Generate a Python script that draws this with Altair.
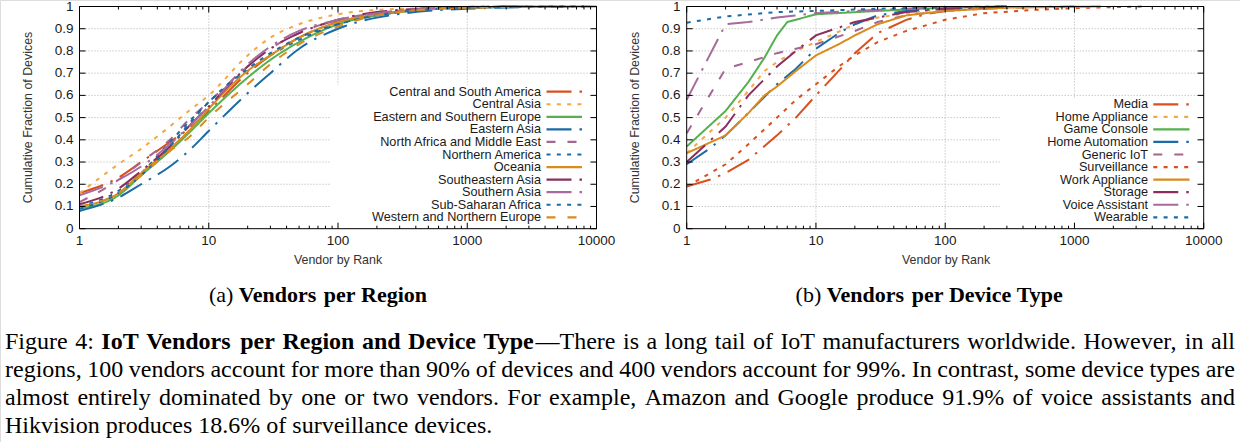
import altair as alt
import pandas as pd

# ---------------- data ----------------
region_names = ["Central and South America", "Central Asia", "Eastern and Southern Europe",
                "Eastern Asia", "North Africa and Middle East", "Northern America", "Oceania",
                "Southeastern Asia", "Southern Asia", "Sub-Saharan Africa", "Western and Northern Europe"]
region_rank = [1, 2, 3, 5, 7, 10, 20, 30, 50, 100, 200, 1000]
region_end = [3000, 1000, 10000, 8000, 2000, 8000, 5000, 3000, 2000, 6000, 9000]
csa_frac = [0.16, 0.23, 0.30, 0.39, 0.45, 0.53, 0.70, 0.78, 0.86, 0.93, 0.965, 0.995]
cas_frac = [0.16, 0.29, 0.36, 0.46, 0.53, 0.60, 0.78, 0.86, 0.92, 0.965, 0.985, 0.998]
ese_frac = [0.09, 0.15, 0.24, 0.35, 0.43, 0.52, 0.68, 0.76, 0.84, 0.92, 0.96, 0.995]
eas_frac = [0.08, 0.14, 0.20, 0.28, 0.35, 0.44, 0.61, 0.70, 0.81, 0.90, 0.95, 0.99]
nme_frac = [0.12, 0.22, 0.30, 0.40, 0.49, 0.57, 0.73, 0.81, 0.88, 0.94, 0.97, 0.997]
nam_frac = [0.10, 0.17, 0.25, 0.39, 0.48, 0.57, 0.71, 0.78, 0.85, 0.92, 0.96, 0.995]
oce_frac = [0.10, 0.16, 0.25, 0.36, 0.44, 0.54, 0.71, 0.78, 0.86, 0.93, 0.965, 0.995]
sea_frac = [0.11, 0.18, 0.26, 0.37, 0.46, 0.55, 0.73, 0.81, 0.88, 0.94, 0.975, 0.998]
sas_frac = [0.15, 0.22, 0.28, 0.38, 0.46, 0.55, 0.74, 0.82, 0.89, 0.94, 0.97, 0.998]
ssa_frac = [0.09, 0.16, 0.24, 0.37, 0.47, 0.57, 0.72, 0.79, 0.86, 0.92, 0.96, 0.995]
wne_frac = [0.10, 0.16, 0.24, 0.35, 0.41, 0.50, 0.65, 0.74, 0.83, 0.91, 0.96, 0.995]
region_fracs = [csa_frac, cas_frac, ese_frac, eas_frac, nme_frac, nam_frac,
                oce_frac, sea_frac, sas_frac, ssa_frac, wne_frac]

device_names = ["Media", "Home Appliance", "Game Console", "Home Automation", "Generic IoT",
                "Surveillance", "Work Appliance", "Storage", "Voice Assistant", "Wearable"]
media_rank = [1, 1.5, 2, 3, 5, 7, 10, 15, 20, 30, 50, 70, 100, 200, 500, 1000]
media_frac = [0.19, 0.22, 0.25, 0.31, 0.42, 0.50, 0.60, 0.71, 0.79, 0.88, 0.94, 0.965, 0.98, 0.99, 0.998, 1.0]
happ_rank = [1, 2, 3, 4, 5, 7, 10, 20, 30, 50, 100, 200]
happ_frac = [0.34, 0.50, 0.62, 0.71, 0.75, 0.80, 0.84, 0.92, 0.95, 0.97, 0.99, 1.0]
game_rank = [1, 2, 3, 4, 5, 6, 10, 30, 100, 300]
game_frac = [0.37, 0.53, 0.66, 0.77, 0.87, 0.93, 0.965, 0.98, 0.995, 1.0]
hauto_rank = [1, 1.5, 2, 3, 5, 7, 10, 15, 20, 30, 50, 100, 300]
hauto_frac = [0.29, 0.36, 0.42, 0.52, 0.65, 0.72, 0.81, 0.88, 0.92, 0.96, 0.98, 0.99, 1.0]
generic_rank = [1, 2, 3, 5, 7, 10, 20, 30, 50, 100, 200, 500]
generic_frac = [0.43, 0.72, 0.75, 0.79, 0.81, 0.83, 0.89, 0.93, 0.96, 0.98, 0.99, 1.0]
surv_rank = [1, 2, 3, 5, 7, 10, 15, 20, 30, 50, 100, 200, 500, 1000, 3500]
surv_frac = [0.19, 0.29, 0.38, 0.50, 0.58, 0.65, 0.73, 0.78, 0.84, 0.89, 0.94, 0.97, 0.985, 0.993, 1.0]
work_rank = [1, 1.3, 2, 3, 4, 5, 7, 10, 15, 20, 30, 50, 100, 300, 1600]
work_frac = [0.34, 0.37, 0.42, 0.52, 0.60, 0.64, 0.71, 0.78, 0.83, 0.87, 0.92, 0.96, 0.98, 0.995, 1.0]
storage_rank = [1, 2, 3, 5, 7, 10, 20, 30, 50, 100, 300]
storage_frac = [0.30, 0.46, 0.60, 0.73, 0.80, 0.87, 0.93, 0.95, 0.975, 0.99, 1.0]
voice_rank = [1, 2, 3, 5, 10, 20, 50, 100]
voice_frac = [0.58, 0.92, 0.93, 0.95, 0.97, 0.98, 0.99, 1.0]
wear_rank = [1, 2, 5, 10, 30, 100, 300]
wear_frac = [0.927, 0.955, 0.975, 0.98, 0.99, 0.997, 1.0]
device_ranks = [media_rank, happ_rank, game_rank, hauto_rank, generic_rank, surv_rank,
                work_rank, storage_rank, voice_rank, wear_rank]
device_fracs = [media_frac, happ_frac, game_frac, hauto_frac, generic_frac, surv_frac,
                work_frac, storage_frac, voice_frac, wear_frac]

x_tick_values = [1, 10, 100, 1000, 10000]
x_tick_labels = ["1", "10", "100", "1000", "10000"]
y_tick_values = [0, 0.1, 0.2, 0.3, 0.4, 0.5, 0.6, 0.7, 0.8, 0.9, 1]
y_tick_labels = ["0", "0.1", "0.2", "0.3", "0.4", "0.5", "0.6", "0.7", "0.8", "0.9", "1"]

subcaption_a = "(a) **Vendors per Region**"
subcaption_b = "(b) **Vendors per Device Type**"
caption_lines = [
    "Figure 4: **IoT Vendors per Region and Device Type**—There is a long tail of IoT manufacturers worldwide. However, in all",
    "regions, 100 vendors account for more than 90% of devices and 400 vendors account for 99%. In contrast, some device types are",
    "almost entirely dominated by one or two vendors. For example, Amazon and Google produce 91.9% of voice assistants and",
    "Hikvision produces 18.6% of surveillance devices.",
]

# ---------------- styles ----------------
RED = "#d9501e"
LORANGE = "#f5a742"
GREEN = "#55b04f"
BLUE = "#1b6ba6"
PURPLE = "#a2668f"
ORANGE = "#d98b1c"
DPURPLE = "#8a2d5f"
LPURPLE = "#a66b9a"
DASHDOT = [25, 8, 2.5, 8]
DOT = [4, 6.3]
DASH = [9, 12]
SOLID = [1, 0]

region_colors = [RED, LORANGE, GREEN, BLUE, PURPLE, BLUE, ORANGE, DPURPLE, LPURPLE, BLUE, ORANGE]
region_dashes = [DASHDOT, DOT, SOLID, DASHDOT, DASH, DOT, SOLID, DASHDOT, DASHDOT, DOT, DASH]
device_colors = [RED, LORANGE, GREEN, BLUE, PURPLE, RED, ORANGE, DPURPLE, LPURPLE, BLUE]
device_dashes = [DASHDOT, DOT, SOLID, DASHDOT, DASH, DOT, SOLID, DASHDOT, DASHDOT, DOT]

SANS = "Liberation Sans"
SERIF = "Liberation Serif"
GRID = "#b0b0b0"
Y0, Y1 = 228.7, 6.5

PA = dict(x0=79.5, x1=596.5, ylab_x=73.5, ytitle_x=28, xtitle_x=338,
          box=(330, 85, 590, 228), lt_x=541, ls0=546.5, ls1=582, ly0=91.7, ly1=217.3)
PB = dict(x0=686.7, x1=1203.7, ylab_x=680.5, ytitle_x=635, xtitle_x=946,
          box=(1000, 99, 1197, 228), lt_x=1148, ls0=1153.3, ls1=1189.5, ly0=104.3, ly1=217.3)

one = pd.DataFrame({"k": [0]})


def panel(P, df, names, colors, dashes, interp):
    xs = alt.Scale(type="log", domain=[1, 10000], range=[P["x0"], P["x1"]])
    ys = alt.Scale(domain=[0, 1], range=[Y0, Y1], nice=False, zero=False)
    L = []
    # grid
    L.append(alt.Chart(pd.DataFrame({"v": x_tick_values[1:-1]})).mark_rule(
        color=GRID, strokeDash=[1, 2], strokeWidth=1).encode(
        x=alt.X("v:Q", scale=xs, axis=None), y=alt.value(Y1), y2=alt.value(Y0)))
    L.append(alt.Chart(pd.DataFrame({"v": y_tick_values[1:-1]})).mark_rule(
        color=GRID, strokeDash=[1, 2], strokeWidth=1).encode(
        y=alt.Y("v:Q", scale=ys, axis=None), x=alt.value(P["x0"]), x2=alt.value(P["x1"])))
    # legend background box
    bx0, by0, bx1, by1 = P["box"]
    L.append(alt.Chart(one).mark_rect(color="white").encode(
        x=alt.value(bx0), x2=alt.value(bx1), y=alt.value(by0), y2=alt.value(by1)))
    # curves
    L.append(alt.Chart(df).mark_line(strokeWidth=2, interpolate=interp).encode(
        x=alt.X("rank:Q", scale=xs, axis=None),
        y=alt.Y("frac:Q", scale=ys, axis=None),
        color=alt.Color("series:N", scale=alt.Scale(domain=names, range=colors), legend=None),
        strokeDash=alt.StrokeDash("series:N", scale=alt.Scale(domain=names, range=dashes), legend=None),
        detail="series:N"))
    # frame
    L.append(alt.Chart(one).mark_rect(fillOpacity=0, stroke="black", strokeWidth=1).encode(
        x=alt.value(P["x0"]), x2=alt.value(P["x1"]), y=alt.value(Y1), y2=alt.value(Y0)))
    # ticks
    minor = [m * d for d in [1, 10, 100, 1000] for m in range(2, 10)]
    for vals, ln in [(x_tick_values, 6), (minor, 3)]:
        d = pd.DataFrame({"v": vals})
        L.append(alt.Chart(d).mark_rule(color="black", strokeWidth=1).encode(
            x=alt.X("v:Q", scale=xs, axis=None), y=alt.value(Y0), y2=alt.value(Y0 - ln)))
        L.append(alt.Chart(d).mark_rule(color="black", strokeWidth=1).encode(
            x=alt.X("v:Q", scale=xs, axis=None), y=alt.value(Y1), y2=alt.value(Y1 + ln)))
    dy = pd.DataFrame({"v": y_tick_values})
    L.append(alt.Chart(dy).mark_rule(color="black", strokeWidth=1).encode(
        y=alt.Y("v:Q", scale=ys, axis=None), x=alt.value(P["x0"]), x2=alt.value(P["x0"] + 6)))
    L.append(alt.Chart(dy).mark_rule(color="black", strokeWidth=1).encode(
        y=alt.Y("v:Q", scale=ys, axis=None), x=alt.value(P["x1"]), x2=alt.value(P["x1"] - 6)))
    # tick labels
    L.append(alt.Chart(pd.DataFrame({"v": x_tick_values, "t": x_tick_labels})).mark_text(
        font=SANS, fontSize=13.5, color="#1a1a1a", baseline="middle", align="center").encode(
        x=alt.X("v:Q", scale=xs, axis=None), y=alt.value(240.5), text="t:N"))
    L.append(alt.Chart(pd.DataFrame({"v": y_tick_values, "t": y_tick_labels})).mark_text(
        font=SANS, fontSize=13.5, color="#1a1a1a", baseline="middle", align="right").encode(
        y=alt.Y("v:Q", scale=ys, axis=None), x=alt.value(P["ylab_x"]), text="t:N"))
    # axis titles
    L.append(alt.Chart(one).mark_text(font=SANS, fontSize=12.4, color="#333333", angle=270,
                                      baseline="middle", align="center",
                                      text="Cumulative Fraction of Devices").encode(
        x=alt.value(P["ytitle_x"]), y=alt.value(117.5)))
    L.append(alt.Chart(one).mark_text(font=SANS, fontSize=12.4, color="#333333",
                                      baseline="middle", align="center",
                                      text="Vendor by Rank").encode(
        x=alt.value(P["xtitle_x"]), y=alt.value(260)))
    # legend
    n = len(names)
    ld = pd.DataFrame({"idx": list(range(n)), "series": names})
    ly = alt.Scale(domain=[0, n - 1], range=[P["ly0"], P["ly1"]])
    L.append(alt.Chart(ld).mark_text(font=SANS, fontSize=12.7, color="#1a1a1a",
                                     baseline="middle", align="right").encode(
        x=alt.value(P["lt_x"]), y=alt.Y("idx:Q", scale=ly, axis=None), text="series:N"))
    L.append(alt.Chart(ld).mark_rule(strokeWidth=2.2).encode(
        x=alt.value(P["ls0"]), x2=alt.value(P["ls1"]),
        y=alt.Y("idx:Q", scale=ly, axis=None),
        color=alt.Color("series:N", scale=alt.Scale(domain=names, range=colors), legend=None),
        strokeDash=alt.StrokeDash("series:N", scale=alt.Scale(domain=names, range=dashes), legend=None)))
    return L


rows = []
for name, fr, end in zip(region_names, region_fracs, region_end):
    for r, f in zip(region_rank + [end], fr + [1.0]):
        rows.append({"series": name, "rank": r, "frac": f})
df_a = pd.DataFrame(rows)
rows = []
for name, rk, fr in zip(device_names, device_ranks, device_fracs):
    for r, f in zip(rk, fr):
        rows.append({"series": name, "rank": r, "frac": f})
df_b = pd.DataFrame(rows)

# ---------------- caption text layout (Times metrics) ----------------
REG = {" ": 250, ",": 250, ".": 250, "%": 833, ":": 278, "—": 1000, "(": 333, ")": 333, "-": 333,
       "A": 722, "F": 556, "G": 722, "H": 722, "I": 333, "T": 611,
       "a": 444, "b": 500, "c": 444, "d": 500, "e": 444, "f": 333, "g": 500, "h": 500, "i": 278,
       "j": 278, "k": 500, "l": 278, "m": 778, "n": 500, "o": 500, "p": 500, "q": 500, "r": 333,
       "s": 389, "t": 278, "u": 500, "v": 500, "w": 722, "x": 500, "y": 500, "z": 444}
BOLD = {" ": 250, ",": 250, ".": 250, ":": 333, "I": 389, "T": 667, "V": 722, "R": 722, "D": 722,
        "a": 500, "b": 556, "c": 444, "d": 556, "e": 444, "f": 333, "g": 500, "h": 556, "i": 278,
        "j": 333, "k": 556, "l": 278, "m": 833, "n": 556, "o": 500, "p": 556, "q": 556, "r": 444,
        "s": 389, "t": 333, "u": 556, "v": 500, "w": 722, "x": 500, "y": 500, "z": 444}


def tw(t, b, size):
    tab = BOLD if b else REG
    return sum(tab.get(c, 500) for c in t) * size / 1000.0


def parse(line):
    words, parts, bold, buf, i = [], [], False, "", 0
    while i < len(line):
        if line.startswith("**", i):
            if buf:
                parts.append((buf, bold))
                buf = ""
            bold = not bold
            i += 2
            continue
        c = line[i]
        if c == " ":
            if buf:
                parts.append((buf, bold))
                buf = ""
            if parts:
                words.append(parts)
                parts = []
        else:
            buf += c
        i += 1
    if buf:
        parts.append((buf, bold))
    if parts:
        words.append(parts)
    return words


def place(line, y, size, mode, a, b=None):
    words = parse(line)
    widths = [sum(tw(t, bb, size) for t, bb in w) for w in words]
    if mode == "justify":
        gap = (b - a - sum(widths)) / (len(words) - 1)
        x = a
    else:
        gap = 0.25 * size
        total = sum(widths) + gap * (len(words) - 1)
        x = a - total / 2 if mode == "center" else a
    out = []
    for w, wd in zip(words, widths):
        xx = x
        for t, bb in w:
            out.append({"x": xx, "y": y, "t": t, "bold": bb, "size": size})
            xx += tw(t, bb, size)
        x += wd + gap
    return out


CAP = 24
SUB = 22
text_rows = []
text_rows += place(subcaption_a, 302, SUB, "center", 318)
text_rows += place(subcaption_b, 302, SUB, "center", 930)
cap_y = [349, 377, 405, 433]
for k, ln in enumerate(caption_lines):
    mode = "justify" if k < 3 else "left"
    text_rows += place(ln, cap_y[k], CAP, mode, 5, 1235)
tdf = pd.DataFrame(text_rows)

cap_layers = []
for size in [SUB, CAP]:
    for bflag, weight in [(False, "normal"), (True, "bold")]:
        sub = tdf[(tdf["bold"] == bflag) & (tdf["size"] == size)][["x", "y", "t"]]
        cap_layers.append(alt.Chart(sub).mark_text(font=SERIF, fontSize=size, fontWeight=weight,
                                                   color="black", align="left", baseline="alphabetic").encode(
            x=alt.X("x:Q", scale=None, axis=None), y=alt.Y("y:Q", scale=None, axis=None), text="t:N"))

layers = panel(PA, df_a, region_names, region_colors, region_dashes, "monotone") + \
    panel(PB, df_b, device_names, device_colors, device_dashes, "linear") + cap_layers

chart = alt.layer(*layers).properties(
    width=1240, height=442, autosize=alt.AutoSizeParams(type="none"), padding=0
).resolve_scale(
    x="independent", y="independent", color="independent", strokeDash="independent"
).configure_view(stroke=None).configure(background="white")

chart.save("out.html", embed_options={"renderer": "svg", "actions": False})
